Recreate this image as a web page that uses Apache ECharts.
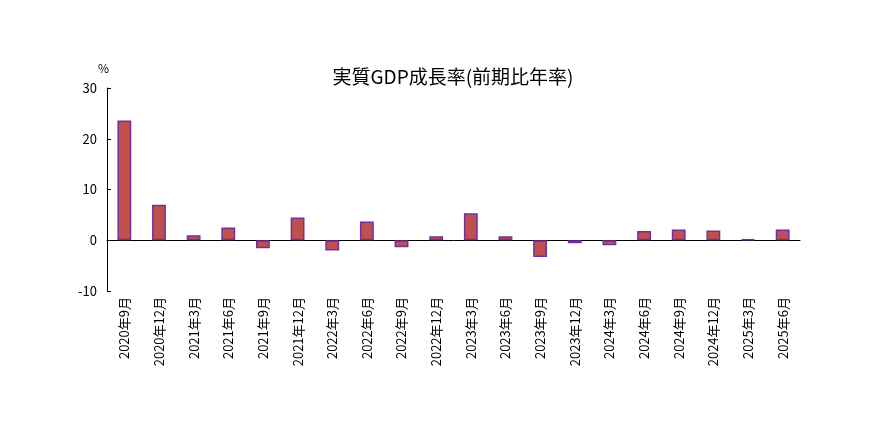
<!DOCTYPE html>
<html>
<head>
    <meta charset="utf-8">
    <title>実質GDP成長率</title>
    <script src="https://cdn.jsdelivr.net/npm/echarts@6/dist/echarts.min.js"></script>
</head>
<body style="margin:0;background:#fff;">
<div id="main" style="width: 890px;height:434px;"></div>
<script type="text/javascript">
    // 四半期ラベル
    var quarters = ['2020年9月', '2020年12月', '2021年3月', '2021年6月', '2021年9月', '2021年12月',
        '2022年3月', '2022年6月', '2022年9月', '2022年12月', '2023年3月', '2023年6月',
        '2023年9月', '2023年12月', '2024年3月', '2024年6月', '2024年9月', '2024年12月',
        '2025年3月', '2025年6月'];
    // 前期比年率 (%)
    var growth = [23.6, 7.0, 1.0, 2.5, -1.6, 4.5, -2.0, 3.7, -1.4, 0.8, 5.3, 0.8,
        -3.3, -0.6, -1.0, 1.8, 2.1, 1.9, 0.2, 2.1];

    var font = '"Noto Sans CJK JP", sans-serif';
    var myChart = echarts.init(document.getElementById('main'));

    var option = {
        backgroundColor: '#fff',
        animation: false,
        title: {
            text: '実質GDP成長率(前期比年率)',
            left: 448,
            top: 62,
            textAlign: 'center',
            textStyle: {fontFamily: font, fontSize: 19, fontWeight: 'normal', color: '#000'}
        },
        grid: {left: 107, right: 90, top: 88, bottom: 143},
        xAxis: {
            type: 'category',
            data: quarters,
            axisLine: {onZero: true, lineStyle: {color: '#000', width: 1}},
            axisTick: {show: false},
            axisLabel: {
                interval: 0, rotate: 90, margin: 6,
                fontFamily: font, fontSize: 13, color: '#000'
            }
        },
        yAxis: {
            type: 'value',
            min: -10, max: 30, interval: 10,
            name: '%',
            nameGap: 14,
            nameTextStyle: {fontFamily: font, fontSize: 12, color: '#000', align: 'right', padding: [0, -2, 0, 0]},
            axisLine: {show: true, lineStyle: {color: '#000', width: 1}},
            axisTick: {show: true, inside: true, length: 4, lineStyle: {color: '#000'}},
            axisLabel: {fontFamily: font, fontSize: 13, color: '#000', margin: 10},
            splitLine: {show: false}
        },
        series: [{
            type: 'bar',
            data: growth,
            barWidth: '40%',
            itemStyle: {color: '#c0504d', borderColor: '#7030a0', borderWidth: 1.5}
        }]
    };

    myChart.setOption(option);
</script>
</body>
</html>
